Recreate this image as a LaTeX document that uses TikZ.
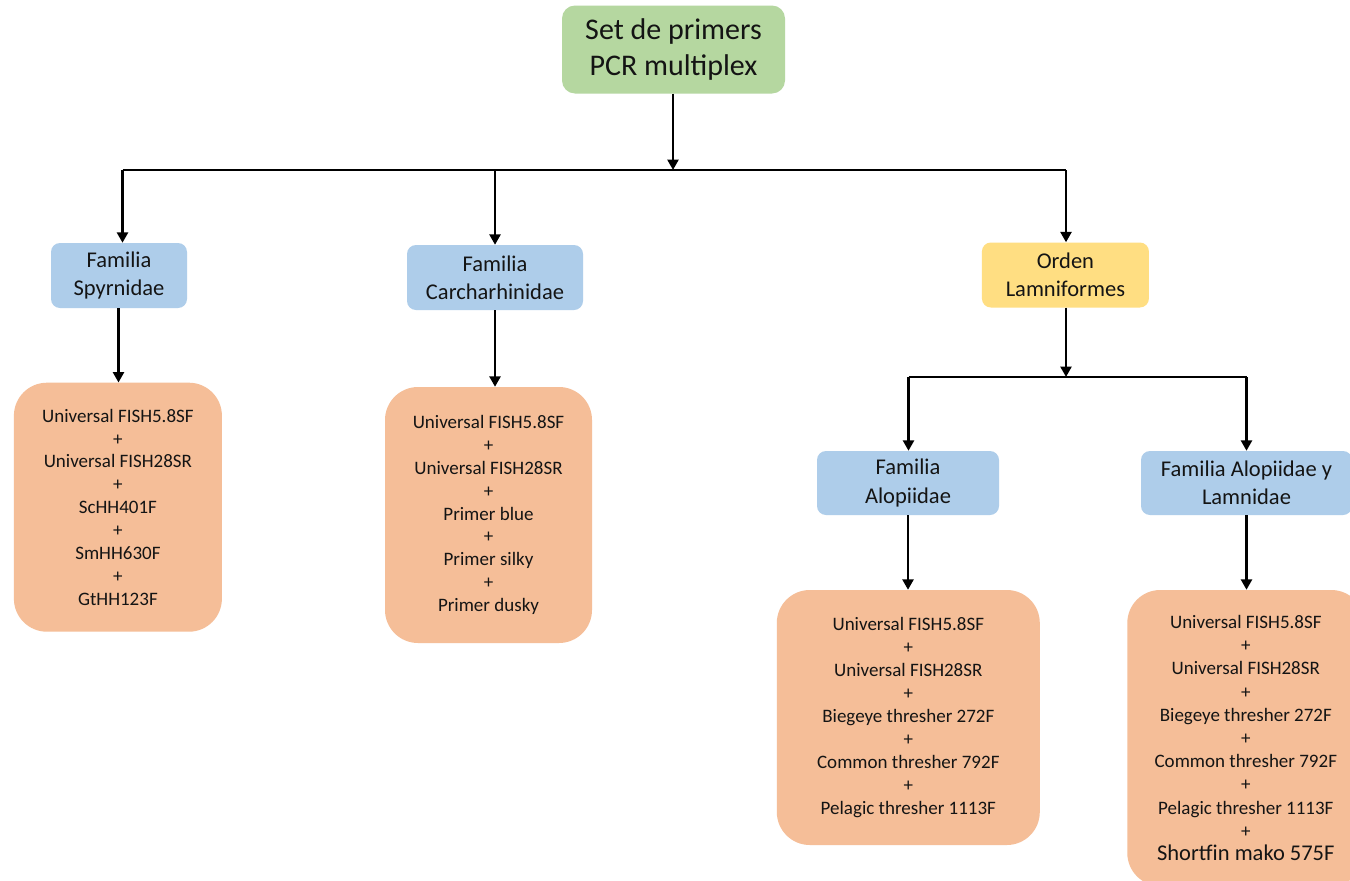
\documentclass[tikz,border=0pt]{standalone}
\usepackage{fontspec}
\setmainfont{Carlito}
\usetikzlibrary{arrows.meta,calc}
\definecolor{boxgreen}{RGB}{181,215,160}
\definecolor{boxblue}{RGB}{174,205,234}
\definecolor{boxyellow}{RGB}{255,222,130}
\definecolor{boxorange}{RGB}{245,190,152}
\definecolor{txt}{RGB}{20,20,20}
\tikzset{
  box/.style={rectangle, draw=none, align=center, inner sep=0pt, text=txt},
  rootbox/.style={box, fill=boxgreen, rounded corners=13pt, font=\fontsize{30}{36.7}\selectfont},
  fambox/.style={box, fill=boxblue, rounded corners=9pt, font=\fontsize{22.5}{28.3}\selectfont},
  ordbox/.style={box, fill=boxyellow, rounded corners=9pt, font=\fontsize{22.5}{28.3}\selectfont},
  primbox/.style={box, fill=boxorange, rounded corners=33pt, font=\fontsize{19}{22.9}\selectfont},
  conn/.style={line width=2.6pt, black},
  arr/.style={conn, -{Triangle[width=11pt,length=10.5pt]}}
}
\begin{document}
\begin{tikzpicture}[x=1pt,y=-1pt]
\path[use as bounding box, clip] (0,0) rectangle (1350,881);
\fill[white] (0,0) rectangle (1350,881);

% nodes
\node[rootbox, minimum width=223pt, minimum height=88pt] (root) at (673.5,49.5) {Set de primers\\PCR multiplex};
\node[fambox, minimum width=136pt, minimum height=65pt] (spy) at (119,275.5) {Familia\\Spyrnidae};
\node[fambox, minimum width=176pt, minimum height=65pt] (car) at (495,277.5) {Familia\\Carcharhinidae};
\node[ordbox, minimum width=167pt, minimum height=65pt] (lam) at (1065.4,275) {Orden\\Lamniformes};
\node[fambox, minimum width=182pt, minimum height=64pt] (alo) at (908,483) {Familia\\Alopiidae};
\node[fambox, minimum width=211pt, minimum height=64pt] (aly) at (1246.5,483) {Familia Alopiidae y\\Lamnidae};

\node[primbox, minimum width=208pt, minimum height=249pt] (p1) at (117.9,507.2)
  {Universal FISH5.8SF\\+\\Universal FISH28SR\\+\\ScHH401F\\+\\SmHH630F\\+\\GtHH123F};
\node[primbox, minimum width=207pt, minimum height=256pt] (p2) at (488.5,515)
  {Universal FISH5.8SF\\+\\Universal FISH28SR\\+\\Primer blue\\+\\Primer silky\\+\\Primer dusky};
\node[primbox, minimum width=263pt, minimum height=255pt] (p3) at (908.3,717.5)
  {Universal FISH5.8SF\\+\\Universal FISH28SR\\+\\Biegeye thresher 272F\\+\\Common thresher 792F\\+\\Pelagic thresher 1113F};
\node[primbox, minimum width=237pt, minimum height=296pt, font=\fontsize{19}{23.2}\selectfont] (p4) at (1245.8,738)
  {Universal FISH5.8SF\\+\\Universal FISH28SR\\+\\Biegeye thresher 272F\\+\\Common thresher 792F\\+\\Pelagic thresher 1113F\\+\\{\fontsize{22.5}{23.2}\selectfont Shortfin mako 575F}};

% junction coordinates
\coordinate (j0) at (673,170);
\coordinate (jl) at (122.5,170);
\coordinate (jm) at (495,170);
\coordinate (jr) at (1066,170);
\coordinate (k0) at (1066,377);
\coordinate (kl) at (908.5,377);
\coordinate (kr) at (1246.5,377);

% connectors
\draw[arr] (root.south -| j0) -- (j0);
\draw[conn] (jl) -- (jr);
\draw[arr] (jl) -- (jl |- spy.north);
\draw[arr] (jm) -- (jm |- car.north);
\draw[arr] (jr) -- (jr |- lam.north);

\draw[arr] ($(spy.south)+(-0.5,0)$) -- ($(spy.south |- p1.north)+(-0.5,0)$);
\draw[arr] (car.south) -- (car.south |- p2.north);

\draw[arr] (lam.south -| k0) -- (k0);
\draw[conn] (kl) -- (kr);
\draw[arr] (kl) -- (kl |- alo.north);
\draw[arr] (kr) -- (kr |- aly.north);

\draw[arr] (alo.south) -- (alo.south |- p3.north);
\draw[arr] (aly.south) -- (aly.south |- p4.north);
\end{tikzpicture}
\end{document}
